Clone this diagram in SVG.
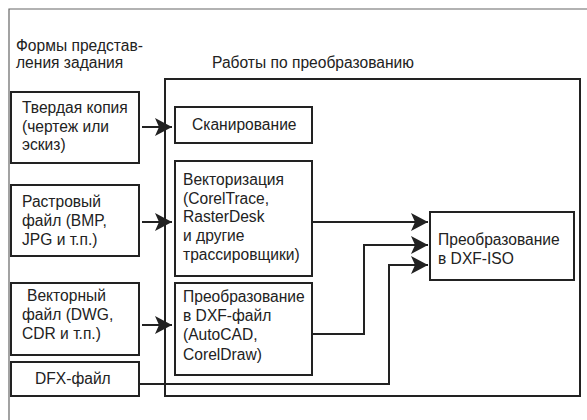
<svg xmlns="http://www.w3.org/2000/svg" width="587" height="420" viewBox="0 0 587 420">
<style>
.t{font-family:"Liberation Sans",Arial,sans-serif;font-size:15.6px;fill:#222}
.b{fill:#fff;stroke:#222;stroke-width:2}
.c{fill:none;stroke:#222;stroke-width:2}
</style>
<defs>
<marker id="ah" markerUnits="userSpaceOnUse" markerWidth="20" markerHeight="20" viewBox="-18 -10 20 20" refX="0" refY="0" orient="auto">
<path d="M0,0 L-17,-9 L-13,0 L-17,9 Z" fill="#222"/>
</marker>
</defs>
<rect width="587" height="420" fill="#fff"/>
<path d="M9,420 V9 H587" fill="none" stroke="#666" stroke-width="1.2"/>
<text class="t" x="16" y="51">Формы представ-</text>
<text class="t" x="16" y="68">ления задания</text>
<text class="t" x="212" y="68">Работы по преобразованию</text>
<g id="work"><rect class="b" x="165" y="79" width="415" height="317"/></g>
<g id="n1"><rect class="b" x="11" y="92" width="128" height="71"/>
<text class="t" x="22" y="113">Твердая копия</text><text class="t" x="22" y="132">(чертеж или</text><text class="t" x="22" y="150">эскиз)</text></g>
<g id="n2"><rect class="b" x="11" y="185" width="128" height="71"/>
<text class="t" x="22" y="207">Растровый</text><text class="t" x="22" y="226">файл (BMP,</text><text class="t" x="22" y="245">JPG и т.п.)</text></g>
<g id="n3"><rect class="b" x="11" y="283" width="128" height="72"/>
<text class="t" x="27" y="301">Векторный</text><text class="t" x="22" y="320">файл (DWG,</text><text class="t" x="22" y="339">CDR и т.п.)</text></g>
<g id="n4"><rect class="b" x="11" y="362" width="128" height="34"/>
<text class="t" x="35" y="384">DFX-файл</text></g>
<g id="scan"><rect class="b" x="175" y="107" width="137" height="36"/>
<text class="t" x="192" y="130">Сканирование</text></g>
<g id="vect"><rect class="b" x="175" y="161" width="137" height="115"/>
<text class="t" x="183" y="185">Векторизация</text><text class="t" x="183" y="204">(CorelTrace,</text><text class="t" x="183" y="222">RasterDesk</text><text class="t" x="183" y="241">и другие</text><text class="t" x="183" y="260">трассировщики)</text></g>
<g id="conv"><rect class="b" x="175" y="283" width="137" height="92"/>
<text class="t" x="183" y="302">Преобразование</text><text class="t" x="183" y="321">в DXF-файл</text><text class="t" x="183" y="340">(AutoCAD,</text><text class="t" x="183" y="360">CorelDraw)</text></g>
<g id="iso"><rect class="b" x="430" y="212" width="144" height="68"/>
<text class="t" x="438" y="245">Преобразование</text><text class="t" x="438" y="264">в DXF-ISO</text></g>
<g id="connectors">
<path class="c" d="M142,127 H172" marker-end="url(#ah)"/>
<path class="c" d="M142,222 H172" marker-end="url(#ah)"/>
<path class="c" d="M142,325 H172" marker-end="url(#ah)"/>
<path class="c" d="M312,222 H428" marker-end="url(#ah)"/>
<path class="c" d="M312,334 H364 V245 H428" marker-end="url(#ah)"/>
<path class="c" d="M139,384 H389 V265 H428" marker-end="url(#ah)"/>
</g>
</svg>
